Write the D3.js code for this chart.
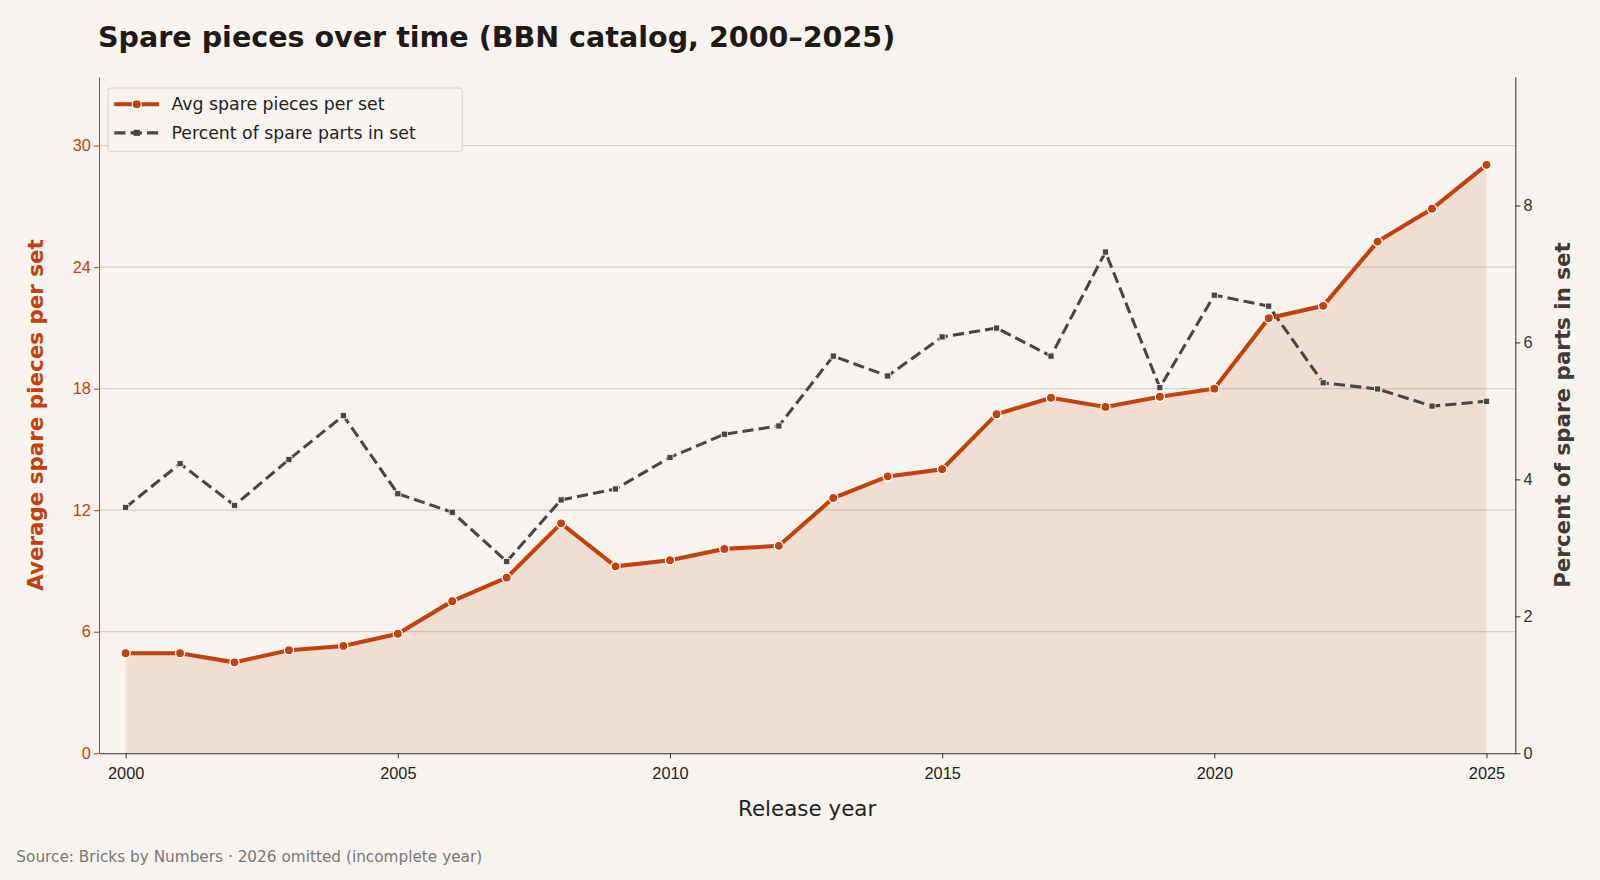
<!DOCTYPE html>
<html><head><meta charset="utf-8">
<script src="https://cdn.jsdelivr.net/npm/d3@7"></script>
<style>body{margin:0;background:#f7f4f0;font-family:"DejaVu Sans",sans-serif}</style>
</head><body><svg id="c" width="1600" height="880" viewBox="0 0 1568 862"></svg>
<script>
const years = d3.range(2000, 2026);
const avgSpare = [4.94,4.94,4.49,5.09,5.3,5.9,7.51,8.67,11.35,9.23,9.53,10.09,10.24,12.6,13.67,14.02,16.74,17.55,17.1,17.6,18.0,21.48,22.09,25.26,26.88,29.05];
const pctSpare = [3.59,4.23,3.62,4.29,4.93,3.79,3.52,2.8,3.7,3.86,4.32,4.66,4.78,5.8,5.51,6.08,6.21,5.8,7.32,5.34,6.69,6.53,5.41,5.32,5.07,5.14];
const leftTicks = [0,6,12,18,24,30];
const rightTicks = [0,2,4,6,8];
const xTicks = [2000,2005,2010,2015,2020,2025];

const orange = "#c2410c", dark = "#4a4540";
const svg = d3.select("#c");
svg.append("rect").attr("width",1568).attr("height",862).attr("fill","#f7f4f0");
const L=97,R=1485,T=75,B=738;
const x = d3.scaleLinear().domain([1999.51,2025.53]).range([L,R]);
const yL = d3.scaleLinear().domain([0,33.4]).range([B,T]);
const yR = d3.scaleLinear().domain([0,9.88]).range([B,T]);

svg.append("g").selectAll("line").data(leftTicks.slice(1)).join("line")
  .attr("x1",L).attr("x2",R).attr("y1",d=>yL(d)).attr("y2",d=>yL(d))
  .attr("stroke","#d4d0cb").attr("stroke-width",1.2);

svg.append("path").datum(avgSpare)
  .attr("d",d3.area().x((d,i)=>x(years[i])).y0(yL(0)).y1(d=>yL(d)))
  .attr("fill",orange).attr("fill-opacity",0.12);

svg.append("path").datum(pctSpare)
  .attr("d",d3.line().x((d,i)=>x(years[i])).y(d=>yR(d)))
  .attr("fill","none").attr("stroke",dark).attr("stroke-width",3).attr("stroke-dasharray","11,5");
svg.append("g").selectAll("rect").data(pctSpare).join("rect")
  .attr("x",(d,i)=>x(years[i])-3).attr("y",d=>yR(d)-3).attr("width",6).attr("height",6)
  .attr("fill",dark).attr("stroke","#f7f4f0").attr("stroke-width",0.8);

svg.append("path").datum(avgSpare)
  .attr("d",d3.line().x((d,i)=>x(years[i])).y(d=>yL(d)))
  .attr("fill","none").attr("stroke",orange).attr("stroke-width",4);
svg.append("g").selectAll("circle").data(avgSpare).join("circle")
  .attr("cx",(d,i)=>x(years[i])).attr("cy",d=>yL(d)).attr("r",4.5)
  .attr("fill",orange).attr("stroke","#fff").attr("stroke-width",1.3);

const fs = "16px";
const ax = svg.append("g").attr("transform",`translate(0,${B})`)
  .call(d3.axisBottom(x).tickValues(xTicks).tickFormat(d3.format("d")).tickSize(5).tickSizeOuter(0));
ax.selectAll("text").attr("font-size",fs).attr("fill","#222").attr("dy","1.05em");
const al = svg.append("g").attr("transform",`translate(${L},0)`)
  .call(d3.axisLeft(yL).tickValues(leftTicks).tickSize(5).tickSizeOuter(0));
al.selectAll("text").attr("font-size",fs).attr("fill",orange);
al.selectAll("line,path").attr("stroke",orange);
const ar = svg.append("g").attr("transform",`translate(${R},0)`)
  .call(d3.axisRight(yR).tickValues(rightTicks).tickSize(5).tickSizeOuter(0));
ar.selectAll("text").attr("font-size",fs).attr("fill","#333");
ar.selectAll("line,path").attr("stroke","#333");
ax.selectAll("line,path").attr("stroke","#333");

svg.append("text").attr("x",96).attr("y",46).attr("font-size",28).attr("font-weight","bold")
  .attr("fill","#1f1a17").text("Spare pieces over time (BBN catalog, 2000–2025)");
svg.append("text").attr("x",(L+R)/2).attr("y",799).attr("text-anchor","middle").attr("font-size",21)
  .attr("fill","#222").text("Release year");
svg.append("text").attr("transform",`translate(42,${(T+B)/2}) rotate(-90)`).attr("text-anchor","middle")
  .attr("font-size",21).attr("font-weight","bold").attr("fill",orange).text("Average spare pieces per set");
svg.append("text").attr("transform",`translate(1539,${(T+B)/2}) rotate(-90)`).attr("text-anchor","middle")
  .attr("font-size",21).attr("font-weight","bold").attr("fill","#3f3a36").text("Percent of spare parts in set");
svg.append("text").attr("x",16).attr("y",845).attr("font-size",15).attr("fill","#777")
  .text("Source: Bricks by Numbers · 2026 omitted (incomplete year)");

const lg = svg.append("g").attr("transform","translate(106,86)");
lg.append("rect").attr("width",347).attr("height",62).attr("rx",3).attr("fill","#f7f4f0").attr("stroke","#d6d2cc");
lg.append("line").attr("x1",6).attr("x2",50).attr("y1",16).attr("y2",16).attr("stroke",orange).attr("stroke-width",4);
lg.append("circle").attr("cx",28).attr("cy",16).attr("r",4.5).attr("fill",orange).attr("stroke","#fff");
lg.append("line").attr("x1",6).attr("x2",50).attr("y1",44).attr("y2",44).attr("stroke",dark).attr("stroke-width",3).attr("stroke-dasharray","11,5");
lg.append("rect").attr("x",25).attr("y",41).attr("width",6).attr("height",6).attr("fill",dark);
lg.append("text").attr("x",62).attr("y",22).attr("font-size",17).attr("fill","#222").text("Avg spare pieces per set");
lg.append("text").attr("x",62).attr("y",50).attr("font-size",17).attr("fill","#222").text("Percent of spare parts in set");
</script></body></html>
